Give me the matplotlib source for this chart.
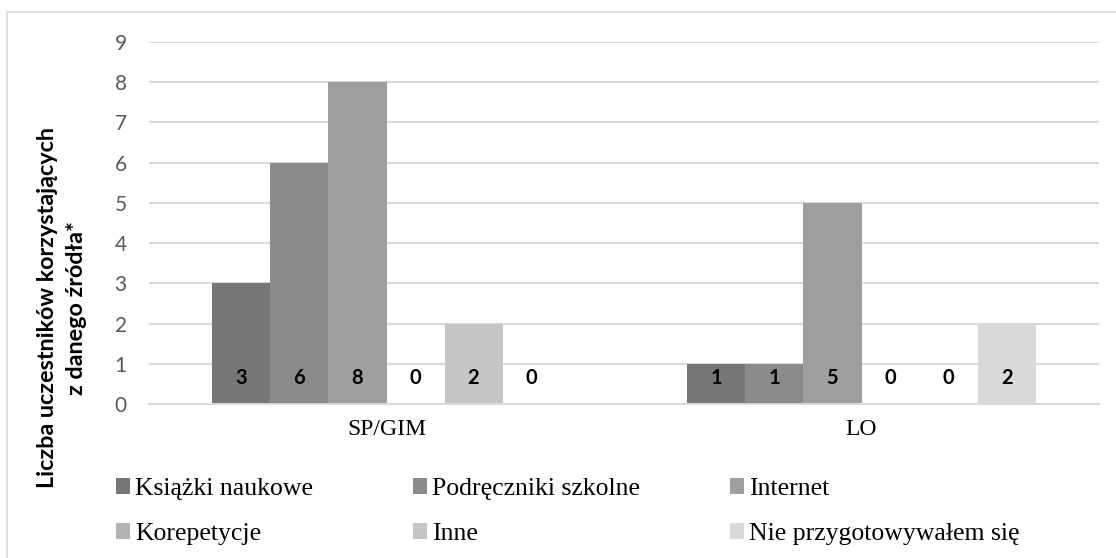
import matplotlib
matplotlib.use("Agg")
import matplotlib.pyplot as plt
import numpy as np
from matplotlib.patches import Rectangle

# data
groups = ["SP/GIM", "LO"]
series = ["Książki naukowe", "Podręczniki szkolne", "Internet",
          "Korepetycje", "Inne", "Nie przygotowywałem się"]
values = [
    [3, 1],   # Książki naukowe
    [6, 1],   # Podręczniki szkolne
    [8, 5],   # Internet
    [0, 0],   # Korepetycje
    [2, 0],   # Inne
    [0, 2],   # Nie przygotowywałem się
]
colors = ["#777777", "#8b8b8b", "#9f9f9f", "#b2b2b2", "#c6c6c6", "#dadada"]
yticks = list(range(0, 10))

W, H = 1116, 558
fig = plt.figure(figsize=(W / 100, H / 100), dpi=100)
ax = fig.add_axes([149 / W, 1 - 404 / H, (1099 - 149) / W, (404 - 42) / H])

# chart border (light grey frame)
fig.patches.append(Rectangle((7 / W, -0.1), 1.2, (1 - 12 / H) + 0.1,
                             transform=fig.transFigure, fill=False,
                             edgecolor="#d9d9d9", linewidth=1.2))

x = np.arange(len(groups))
bw = 0.733 / len(series)
handles = []
for i, (name, vals) in enumerate(zip(series, values)):
    pos = x - 0.733 / 2 + bw * (i + 0.5)
    b = ax.bar(pos, vals, width=bw, color=colors[i], label=name, zorder=2)
    handles.append(b)
    for px, v in zip(pos, vals):
        ax.annotate(str(v), (px, 0), xytext=(0, 19), textcoords="offset points",
                    ha="center", va="center", fontsize=14.5, fontweight="bold",
                    family=["Lato", "DejaVu Sans"], color="black", zorder=3)

ax.set_xlim(-0.5, 1.5)
ax.set_ylim(0, 9)
ax.set_yticks(yticks)
ax.grid(axis="y", color="#d9d9d9", linewidth=1.4, zorder=0)
ax.set_axisbelow(True)
for s in ["top", "right", "left"]:
    ax.spines[s].set_visible(False)
ax.spines["bottom"].set_color("#d9d9d9")
ax.spines["bottom"].set_linewidth(1.4)
ax.tick_params(axis="both", length=0)
ax.tick_params(axis="y", pad=16, labelsize=15, labelcolor="#595959")
ax.set_xticks(x)
ax.set_xticklabels(groups, fontsize=17, family="Liberation Serif")
ax.tick_params(axis="x", pad=11)
for lab in ax.get_yticklabels():
    lab.set_family(["Lato", "DejaVu Sans"])

# y axis title
fig.text(62 / W, 1 - 308 / H, "Liczba uczestników korzystających\nz danego źródła*",
         rotation=90, ha="center", va="center", fontsize=16.8, fontweight="bold",
         family=["Lato", "DejaVu Sans"], linespacing=1.5)

# legend: one small legend per column, two rows each
col_x = [116, 413, 730]
for c in range(3):
    idx = [c, c + 3]
    leg = fig.legend([handles[k] for k in idx], [series[k] for k in idx],
                     loc="upper left", bbox_to_anchor=(col_x[c] / W, 1 - 478 / H),
                     frameon=False, prop={"family": "Liberation Serif", "size": 18.5},
                     handlelength=0.55, handleheight=0.55, handletextpad=0.2,
                     labelspacing=0.9, borderaxespad=0, borderpad=0)

fig.savefig("out.png", dpi=100)
